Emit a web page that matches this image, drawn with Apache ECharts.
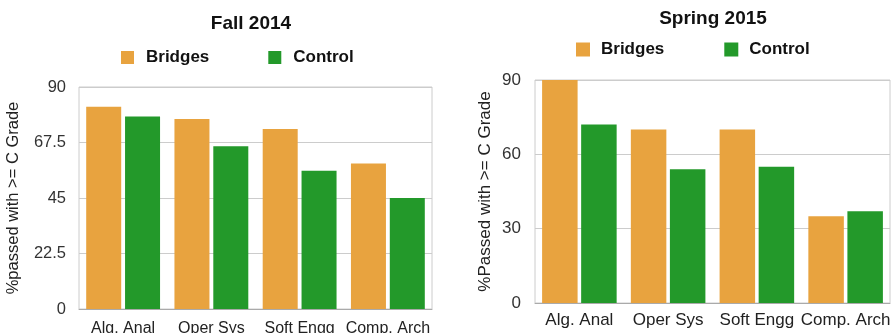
<!DOCTYPE html>
<html>
<head>
<meta charset="utf-8">
<title>Course pass rates: Bridges vs Control</title>
<script src="https://cdn.jsdelivr.net/npm/echarts@6/dist/echarts.min.js"></script>
<style>
  html, body { margin: 0; padding: 0; background: #ffffff; }
  #chart { width: 894px; height: 333px; }
</style>
</head>
<body>
<div id="chart"></div>
<script>
// Courses compared in both semesters
const courses = ['Alg. Anal', 'Oper Sys', 'Soft Engg', 'Comp. Arch'];
const seriesNames = ['Bridges', 'Control'];

// Fall 2014: % of students passing with a grade of C or better
const fallBridges = [82, 77, 73, 59];
const fallControl = [78, 66, 56, 45];
const fallTicks = [0, 22.5, 45, 67.5, 90];

// Spring 2015: % of students passing with a grade of C or better
const springBridges = [90, 70, 70, 35];
const springControl = [72, 54, 55, 37];
const springTicks = [0, 30, 60, 90];

const ORANGE = '#E8A33F';
const GREEN = '#23992A';
const FONT = '"Liberation Sans", Arial, Helvetica, sans-serif';

const chart = echarts.init(document.getElementById('chart'), null, { renderer: 'canvas' });

function yAxis(gridIndex, ticks, name, fontSize, nameGap, labelMargin) {
  return {
    type: 'value',
    gridIndex: gridIndex,
    min: ticks[0],
    max: ticks[ticks.length - 1],
    interval: ticks[1] - ticks[0],
    name: name,
    nameLocation: 'middle',
    nameGap: nameGap,
    nameRotate: 90,
    nameTextStyle: { color: '#222', fontSize: fontSize, fontFamily: FONT },
    axisLine: { show: false },
    axisTick: { show: false },
    axisLabel: { color: '#333', fontSize: fontSize, fontFamily: FONT, margin: labelMargin },
    splitLine: { lineStyle: { color: '#cccccc', width: 1 } }
  };
}

function xAxis(gridIndex, fontSize, margin) {
  return {
    type: 'category',
    gridIndex: gridIndex,
    data: courses,
    axisTick: { show: false },
    axisLine: { lineStyle: { color: '#aaaaaa', width: 1 } },
    axisLabel: { color: '#222', fontSize: fontSize, fontFamily: FONT, margin: margin, interval: 0 }
  };
}

function bar(name, data, color, axisIndex, width, gap) {
  return {
    type: 'bar',
    name: name,
    data: data,
    xAxisIndex: axisIndex,
    yAxisIndex: axisIndex,
    barWidth: width,
    barGap: gap,
    itemStyle: { color: color },
    emphasis: { disabled: true }
  };
}

function legend(left, top, iconSize, textPad, gap) {
  return {
    data: seriesNames,
    left: left,
    top: top,
    padding: 0,
    orient: 'horizontal',
    icon: 'rect',
    itemWidth: iconSize,
    itemHeight: iconSize,
    itemGap: gap,
    selectedMode: false,
    textStyle: {
      color: '#111',
      fontSize: 17,
      fontWeight: 'bold',
      fontFamily: FONT,
      padding: [0, 0, 0, textPad]
    }
  };
}

function title(text, x, top) {
  return {
    text: text,
    left: x,
    top: top,
    padding: 0,
    textAlign: 'center',
    textStyle: { color: '#111', fontSize: 19, fontWeight: 'bold', fontFamily: FONT }
  };
}

chart.setOption({
  animation: false,
  color: [ORANGE, GREEN],
  title: [
    title('Fall 2014', 251, 14),
    title('Spring 2015', 713, 9)
  ],
  legend: [
    legend(121, 49, 13, 7, 59),
    legend(576, 41, 14, 6, 60)
  ],
  grid: [
    { left: 79, right: 462, top: 87, bottom: 24, outerBoundsMode: 'none', show: true, borderColor: '#cccccc', borderWidth: 1, backgroundColor: 'transparent' },
    { left: 535, right: 4, top: 80, bottom: 30, outerBoundsMode: 'none', show: true, borderColor: '#cccccc', borderWidth: 1, backgroundColor: 'transparent' }
  ],
  xAxis: [
    xAxis(0, 16, 12),
    xAxis(1, 17, 9)
  ],
  yAxis: [
    yAxis(0, fallTicks, '%passed with >= C Grade', 16.5, 57, 13),
    yAxis(1, springTicks, '%Passed with >= C Grade', 17, 41, 14)
  ],
  series: [
    bar('Bridges', fallBridges, ORANGE, 0, 35, '11%'),
    bar('Control', fallControl, GREEN, 0, 35, '11%'),
    bar('Bridges', springBridges, ORANGE, 1, 35.5, '10%'),
    bar('Control', springControl, GREEN, 1, 35.5, '10%')
  ]
});
</script>
</body>
</html>
